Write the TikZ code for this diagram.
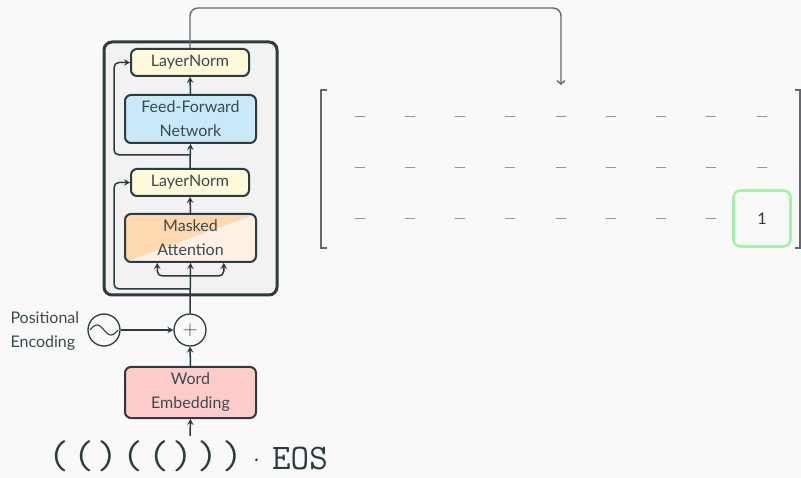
\documentclass[tikz,border=0pt]{standalone}
\usepackage{fontspec}
\setmainfont{Lato}
\usetikzlibrary{arrows.meta,calc}

\definecolor{bgc}{HTML}{F9F9F9}
\definecolor{ink}{HTML}{2B3B40}
\definecolor{txt}{HTML}{3A4A50}
\definecolor{layerfill}{HTML}{F2F2F2}
\definecolor{normfill}{HTML}{FFFADB}
\definecolor{ffnfill}{HTML}{C9E8F8}
\definecolor{attdark}{HTML}{FFD8B0}
\definecolor{attlight}{HTML}{FFF1E6}
\definecolor{embfill}{HTML}{FFCCCC}
\definecolor{hlgreen}{HTML}{A0F5A0}
\definecolor{mgray}{HTML}{5F6B70}

\newcommand\lblfont{\fontsize{16}{24}\selectfont}

\begin{document}
\begin{tikzpicture}[x=1pt,y=-1pt,
  block/.style={draw=ink, line width=2pt, rounded corners=6pt, font=\lblfont,
    text=txt, align=center, inner sep=0pt},
  normbox/.style={block, fill=normfill, minimum width=118pt, minimum height=27pt},
  widebox/.style={block, minimum width=131pt, minimum height=48pt},
  arr/.style={draw=ink, line width=1.5pt, -{Stealth[length=6pt,width=6.5pt,inset=2.2pt]}},
  thinarr/.style={draw=mgray, line width=1.4pt, -{Straight Barb[length=3.5pt,width=8pt]}},
  circ/.style={circle, draw=ink, line width=1.3pt, minimum size=32pt, inner sep=0pt},
  entry/.style={text=mgray, font=\fontsize{17}{17}\selectfont, inner sep=0pt},
  tok/.style={text=ink, font=\fontsize{36}{36}\selectfont\ttfamily, inner sep=0pt, anchor=base},
  paren/.style={text=ink, font=\fontsize{40}{40}\selectfont\ttfamily, inner sep=0pt, anchor=base},
  bracket/.style={draw=mgray, line width=1.5pt}
]
\fill[bgc] (0,0) rectangle (801,478);
\useasboundingbox (0,0) rectangle (801,478);

% decoder layer frame
\node[draw=ink, line width=3pt, rounded corners=8pt, fill=layerfill,
      minimum width=173pt, minimum height=253pt] (layer) at (190.5,168.5) {};

% blocks inside the layer
\node[normbox] (ln1) at (190,62.5) {LayerNorm};
\node[widebox, fill=ffnfill] (ffn) at (190.5,119) {Feed-Forward\\Network};
\node[normbox] (ln2) at (190,182.5) {LayerNorm};
\node[widebox, path picture={
    \fill[attlight] (path picture bounding box.south west) rectangle (path picture bounding box.north east);
    \fill[attdark] (path picture bounding box.south west) -- (path picture bounding box.north west)
                   -- (path picture bounding box.north east) -- cycle;}]
  (att) at (190.5,238) {Masked\\Attention};

% input side
\node[circ] (plus) at (190,330) {};
\node[text=txt, font=\fontsize{20}{20}\selectfont] at (plus.center) {$+$};
\node[circ] (pe) at (104,330) {};
\draw[ink, line width=1.1pt] plot[domain=0:360, samples=50, smooth]
  ({90+28*\x/360},{330-5*sin(\x)});
\node[anchor=west, align=left, text=txt, font=\lblfont] (pelabel) at (7,331) {Positional\\Encoding};
\node[widebox, fill=embfill, minimum height=51pt] (emb) at (190.5,392.5) {Word\\Embedding};

% token sequence
\node[paren] (t1) at (59,468) {(};
\node[paren] (t2) at (84,468) {(};
\node[paren] (t3) at (107.5,468) {)};
\node[paren] (t4) at (133,468) {(};
\node[paren] (t5) at (159,468) {(};
\node[paren] (t6) at (182.5,468) {)};
\node[paren] (t7) at (207.5,468) {)};
\node[paren] (t8) at (232.5,468) {)};
\node[tok] (dot) at (256.5,466) {$\cdot$};
\node[tok] (eos) at (300,469) {EOS};

% connectors
\coordinate (tokin) at (190,436);
\draw[arr] (tokin) -- (emb.south);
\draw[arr] (emb.north) -- (plus.south);
\draw[arr] (pe.east) -- (plus.west);
\draw[arr] (plus.north) -- (att.south);
\coordinate (br) at (190,276);
\coordinate (attL) at ($(att.south west)!0.25!(att.south east)$);
\coordinate (attR) at ($(att.south west)!0.75!(att.south east)$);
\draw[arr, rounded corners=5pt] (br) -| (attL);
\draw[arr, rounded corners=5pt] (br) -| (attR);
\draw[arr] (att.north) -- (ln2.south);
\draw[arr] (ln2.north) -- (ffn.south);
\draw[arr] (ffn.north) -- (ln1.south);
\coordinate (res1) at (190,289);
\coordinate (res2) at (190,155);
\draw[arr, rounded corners=5pt] (res1) -| ($(ln2.west)+(-16,0)$) -- (ln2.west);
\draw[arr, rounded corners=5pt] (res2) -| ($(ln1.west)+(-16,0)$) -- (ln1.west);

% output into the matrix
\coordinate (mtop) at (561,85);
\draw[thinarr, rounded corners=8pt] (ln1.north) |- ($(mtop)+(0,-77)$) -- (mtop);

% matrix brackets
\draw[bracket] (327,90) -- (321,90) -- (321,248) -- (327,248);
\draw[bracket] (795,90) -- (800,90) -- (800,248) -- (795,248);

% matrix entries
\foreach \r/\y in {1/117.5,2/168,3/219}{
  \foreach \c/\x in {1/360,2/410,3/460,4/510,5/561,6/611,7/661,8/711,9/762}{
    \ifnum\r\c=39\else
      \node[entry] (m\r\c) at (\x,\y) {$-$};
    \fi
  }
}
\node[draw=hlgreen, line width=2.6pt, rounded corners=7pt, minimum width=57pt,
      minimum height=56pt, inner sep=0pt, text=ink,
      font=\fontsize{16}{16}\selectfont] (m39) at (762,218.5) {1};
\end{tikzpicture}
\end{document}
